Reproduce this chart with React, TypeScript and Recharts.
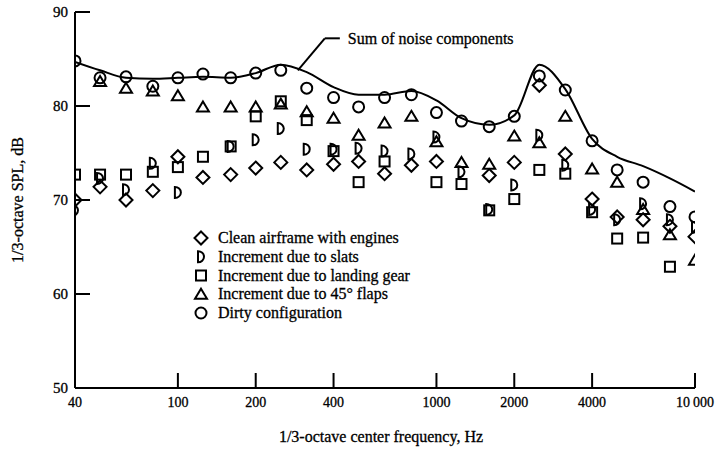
import React from 'react';
import { ComposedChart, Line, Scatter, XAxis, YAxis, ReferenceLine, Legend } from 'recharts';

const freqs = [40, 50, 63, 80, 100, 125, 160, 200, 250, 315, 400, 500, 630, 800, 1000, 1250, 1600, 2000, 2500, 3150, 4000, 5000, 6300, 8000, 10000];
const cleanAirframe = [70.0, 71.4, 70.0, 71.0, 74.6, 72.4, 72.7, 73.4, 74.0, 73.2, 73.8, 74.1, 72.8, 73.7, 74.1, null, 72.6, 74.0, 82.2, 74.9, 70.1, 68.2, 67.9, 67.2, 66.1];
const slats = [68.9, 72.3, 71.1, 73.9, 70.8, null, 75.7, 76.4, 77.6, 75.4, 75.4, 75.5, 75.2, 74.9, 76.7, 73.0, 69.0, 71.6, 76.9, 73.7, 69.0, 67.9, 69.6, 67.9, 67.1];
const landingGear = [72.7, 72.7, 72.7, 73.0, 73.5, 74.6, 75.7, 78.9, 80.5, 78.5, 75.2, 71.9, 74.1, null, 71.9, 71.7, 68.9, 70.1, 73.2, 72.8, 68.7, 65.9, 66.0, 62.9, null];
const flaps = [null, 82.6, 81.9, 81.6, 81.1, 79.9, 79.9, 79.9, 80.2, 79.4, 78.7, 76.9, 78.2, 78.9, 76.2, 74.0, 73.8, 76.8, 76.1, 78.9, 73.3, 71.9, 69.0, 66.3, 63.6];
const dirty = [84.8, 83.0, 83.1, 82.1, 83.0, 83.4, 83.0, 83.5, 83.8, 81.9, 80.9, 79.9, 80.9, 81.2, 79.3, 78.4, 77.8, 78.9, 83.2, 81.7, 76.3, 73.2, 71.9, 69.3, 68.2];
const sumOfComponents = [84.7, 83.8, 83.0, 82.9, 83.0, 83.1, 83.0, 83.5, 84.4, 83.6, 82.0, 81.2, 81.2, 81.6, 80.6, 78.7, 78.0, 79.0, 84.4, 81.8, 76.5, 74.6, 73.6, 72.3, 70.9];

const xTicks = [40, 100, 200, 400, 1000, 2000, 4000, 10000];
const xTickLabels = ['40', '100', '200', '400', '1000', '2000', '4000', '10\u2009000'];
const yTicks = [50, 60, 70, 80, 90];

const seriesNames = [
  'Clean airframe with engines',
  'Increment due to slats',
  'Increment due to landing gear',
  'Increment due to 45° flaps',
  'Dirty configuration',
];
const annotationText = 'Sum of noise components';
const xTitle = '1/3-octave center frequency, Hz';
const yTitle = '1/3-octave SPL, dB';

const FONT = '"Liberation Serif", "Times New Roman", serif';
const SW = 2;

const toRows = (vals: (number | null)[]) =>
  freqs.map((f, i) => ({ f, v: vals[i] })).filter((d) => d.v != null);

const diamondPath = (cx: number, cy: number) => `M${cx},${cy - 6.5}L${cx + 6.5},${cy}L${cx},${cy + 6.5}L${cx - 6.5},${cy}Z`;
const dPath = (cx: number, cy: number) => `M${cx - 3},${cy - 5.5}L${cx - 3},${cy + 5.5}A6 5.5 0 0 0 ${cx - 3},${cy - 5.5}Z`;
const triPath = (cx: number, cy: number) => `M${cx},${cy - 5.5}L${cx + 6},${cy + 4.5}L${cx - 6},${cy + 4.5}Z`;

const DiamondShape = (p: any) => <path d={diamondPath(p.cx, p.cy)} fill="none" stroke="#000" strokeWidth={SW} />;
const DShape = (p: any) => <path d={dPath(p.cx, p.cy)} fill="none" stroke="#000" strokeWidth={SW} />;
const SquareShape = (p: any) => <rect x={p.cx - 5} y={p.cy - 5} width={10} height={10} fill="none" stroke="#000" strokeWidth={SW} />;
const TriShape = (p: any) => <path d={triPath(p.cx, p.cy)} fill="none" stroke="#000" strokeWidth={SW} strokeLinejoin="miter" />;
const CircleShape = (p: any) => <circle cx={p.cx} cy={p.cy} r={5.5} fill="none" stroke="#000" strokeWidth={SW} />;

const shapes = [DiamondShape, DShape, SquareShape, TriShape, CircleShape];

const XTick = (props: any) => {
  const { x, y, payload } = props;
  const idx = xTicks.indexOf(payload.value);
  return (
    <g>
      {payload.value !== xTicks[0] && <line x1={x} x2={x} y1={y} y2={y - 15} stroke="#000" strokeWidth={2} />}
      <text x={x} y={y + 19} textAnchor="middle" fontFamily={FONT} fontSize={14} fill="#000" stroke="#000" strokeWidth={0.3}>
        {xTickLabels[idx]}
      </text>
    </g>
  );
};

const YTick = (props: any) => {
  const { x, y, payload } = props;
  return (
    <g>
      {payload.value !== yTicks[0] && <line x1={x} x2={x + 15} y1={y} y2={y} stroke="#000" strokeWidth={2} />}
      <text x={x - 7} y={y + 5} textAnchor="end" fontFamily={FONT} fontSize={15} fill="#000" stroke="#000" strokeWidth={0.3}>
        {payload.value}
      </text>
    </g>
  );
};

const LegendContent = () => (
  <svg width={240} height={100} style={{ display: 'block' }}>
    {seriesNames.map((name, i) => {
      const Shape = shapes[i];
      const cy = 10 + i * 18.75;
      return (
        <g key={name}>
          <Shape cx={11} cy={cy} />
          <text x={28} y={cy + 5} fontFamily={FONT} fontSize={16} fill="#000" stroke="#000" strokeWidth={0.3}>
            {name}
          </text>
        </g>
      );
    })}
  </svg>
);

const YTitle = (props: any) => {
  const vb = props.viewBox;
  const cx = 17;
  const cy = vb.y + vb.height / 2;
  return (
    <text x={cx} y={cy} transform={`rotate(-90 ${cx} ${cy})`} textAnchor="middle" dominantBaseline="central" fontFamily={FONT} fontSize={16} fill="#000" stroke="#000" strokeWidth={0.3}>
      {yTitle}
    </text>
  );
};

const XTitle = (props: any) => {
  const vb = props.viewBox;
  return (
    <text x={vb.x + vb.width / 2 - 4} y={442} textAnchor="middle" fontFamily={FONT} fontSize={16} fill="#000" stroke="#000" strokeWidth={0.3}>
      {xTitle}
    </text>
  );
};

const AnnoLabel = (props: any) => {
  const vb = props.viewBox;
  return (
    <text x={vb.x + vb.width + 8} y={vb.y + 6} fontFamily={FONT} fontSize={16} fill="#000" stroke="#000" strokeWidth={0.3}>
      {annotationText}
    </text>
  );
};

const seriesData = [cleanAirframe, slats, landingGear, flaps, dirty];

export default function App() {
  return (
    <div style={{ position: 'absolute', left: 0, top: 0, width: 715, height: 457, background: '#fff' }}>
      <ComposedChart width={715} height={457} margin={{ top: 12, right: 20, bottom: 39, left: 15 }}>
        <XAxis
          dataKey="f"
          type="number"
          scale="log"
          domain={[40, 10000]}
          ticks={xTicks}
          allowDataOverflow
          height={30}
          axisLine={{ stroke: '#000', strokeWidth: 2 }}
          tickLine={false}
          tickSize={0}
          tickMargin={0}
          tick={<XTick />}
          interval={0}
          label={<XTitle />}
        />
        <YAxis
          type="number"
          domain={[50, 90]}
          ticks={yTicks}
          allowDataOverflow
          width={60}
          axisLine={{ stroke: '#000', strokeWidth: 2 }}
          tickLine={false}
          tickSize={0}
          tickMargin={0}
          tick={<YTick />}
          interval={0}
          label={<YTitle />}
        />
        <Line
          data={toRows(sumOfComponents)}
          dataKey="v"
          type="monotone"
          dot={false}
          stroke="#000"
          strokeWidth={2}
          isAnimationActive={false}
          legendType="none"
        />
        {seriesData.map((vals, i) => (
          <Scatter
            key={seriesNames[i]}
            name={seriesNames[i]}
            data={toRows(vals)}
            dataKey="v"
            shape={shapes[i]}
            isAnimationActive={false}
          />
        ))}
        <ReferenceLine segment={[{ x: 291, y: 83.8 }, { x: 370, y: 87.2 }]} stroke="#000" strokeWidth={2} ifOverflow="visible" />
        <ReferenceLine segment={[{ x: 370, y: 87.2 }, { x: 423, y: 87.2 }]} stroke="#000" strokeWidth={2} ifOverflow="visible" label={<AnnoLabel />} />
        <Legend
          layout="vertical"
          align="center"
          verticalAlign="middle"
          content={<LegendContent />}
          wrapperStyle={{ position: 'absolute', left: 190, top: 228, width: 240, height: 100 }}
        />
      </ComposedChart>
    </div>
  );
}
